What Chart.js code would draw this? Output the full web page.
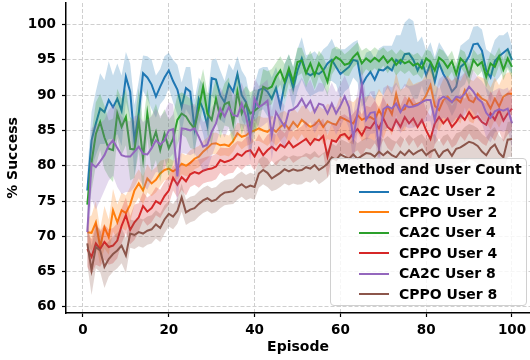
<!DOCTYPE html>
<html>
<head>
<meta charset="utf-8">
<script src="https://cdn.jsdelivr.net/npm/chart.js@4.4.1/dist/chart.umd.min.js"></script>
<style>
  body{ margin:0; background:#fff; }
  #wrap{ position:relative; width:530px; height:360px; }
  #legend{
    position:absolute; left:330px; top:158px; width:197px; height:148px;
    box-sizing:border-box; border:1px solid #d0d0d0; border-radius:4px;
    background:rgba(255,255,255,0.8);
    font:bold 14px "DejaVu Sans", sans-serif; color:#000;
  }
  #legend .ttl{ position:absolute; left:0; right:0; top:2px; text-align:center; line-height:17px; }
  #legend .row{ position:absolute; left:68px; line-height:17px; white-space:nowrap; }
  #legend .sw{ position:absolute; left:-40px; top:7.5px; width:30px; height:2px; }
</style>
</head>
<body>
<div id="wrap">
  <canvas id="chart"></canvas>
  <div id="legend"><div class="ttl">Method and User Count</div></div>
</div>
<script>
const episodes = Array.from({length:100}, (_, i) => i + 1);
const seriesLabels = ['CA2C User 2','CPPO User 2','CA2C User 4','CPPO User 4','CA2C User 8','CPPO User 8'];
const seriesColors = ['#1f77b4','#ff7f0e','#2ca02c','#d62728','#9467bd','#8c564b'];
const xTicks = [0,20,40,60,80,100];
const yTicks = [60,65,70,75,80,85,90,95,100];

const ca2cUser2 = [
  76.5,83.6,86.0,88.1,87.6,89.3,88.3,89.5,87.8,92.6,
  90.5,83.6,87.5,93.1,92.5,91.5,89.8,91.2,92.5,93.5,
  92.0,90.8,88.3,91.0,90.5,85.3,89.5,88.0,85.7,92.4,
  92.2,90.0,89.0,91.5,90.5,93.0,90.0,89.0,85.5,88.0,
  90.7,91.0,90.5,89.5,91.0,88.4,91.5,93.3,91.0,93.5,
  95.2,93.2,92.8,93.2,93.0,93.5,94.5,95.0,94.0,93.0,
  93.5,94.0,95.0,94.8,91.4,92.5,93.3,92.2,93.6,93.5,
  94.0,93.5,95.0,94.5,95.8,95.9,95.0,93.5,94.8,92.8,
  94.5,91.9,94.5,93.0,92.0,90.5,91.2,94.0,94.5,95.5,
  97.2,97.3,96.3,93.5,92.5,94.8,95.5,96.0,96.5,95.0];
const cppoUser2 = [
  70.6,70.5,72.0,68.5,71.3,69.9,73.7,72.0,73.7,73.3,
  74.5,76.5,77.5,76.5,78.2,77.5,78.0,78.9,79.4,79.6,
  79.2,79.6,80.3,80.0,80.4,81.0,81.3,82.0,82.5,83.1,
  83.2,82.9,83.0,82.8,83.5,84.6,84.1,84.3,84.8,85.0,
  85.3,85.0,84.8,85.3,84.8,85.5,86.0,85.2,86.2,85.5,
  86.5,86.0,85.5,85.8,86.5,85.5,86.3,86.0,85.8,86.9,
  86.6,86.3,86.0,87.2,86.5,86.8,86.9,86.5,87.9,86.8,
  88.5,87.3,90.2,87.8,88.0,89.5,88.5,88.8,89.0,90.0,
  91.4,88.5,87.9,89.3,89.8,89.0,89.5,89.0,90.7,89.3,
  89.0,90.2,89.5,89.2,88.1,89.5,88.4,89.8,90.2,90.2];
const ca2cUser4 = [
  74.5,80.5,84.5,86.2,84.0,82.4,82.2,87.4,85.5,86.9,
  82.4,82.3,86.5,81.0,87.4,83.1,84.8,82.2,84.5,82.5,
  83.8,86.5,87.4,87.0,86.0,85.3,88.1,91.2,87.4,86.5,
  89.5,86.9,88.7,89.0,86.0,90.5,87.4,88.8,87.4,87.8,
  88.3,91.2,90.9,91.2,92.6,93.5,91.9,93.8,91.9,94.7,
  94.9,93.1,94.5,92.8,94.5,93.5,91.9,94.7,95.4,95.0,
  94.3,94.5,95.4,96.0,94.5,95.2,94.7,95.3,94.8,95.5,
  94.6,95.2,94.3,95.0,94.5,94.8,94.2,94.5,93.8,95.2,
  94.7,93.5,95.3,94.8,93.9,94.8,93.0,95.2,94.6,92.8,
  95.0,94.2,94.7,92.6,94.5,94.0,95.5,93.6,95.2,94.0];
const cppoUser4 = [
  68.2,67.1,69.0,68.2,69.2,68.5,68.7,69.4,71.5,73.0,
  70.9,72.0,72.7,74.3,73.5,74.0,75.0,74.6,75.7,76.5,
  78.3,77.3,78.4,77.8,78.8,79.1,78.9,79.3,79.5,79.6,
  79.9,80.8,80.5,80.7,81.0,81.7,81.4,82.0,82.2,81.3,
  82.5,81.5,82.2,82.7,82.2,83.0,82.6,83.4,82.6,83.0,
  83.4,83.8,83.0,83.8,83.6,84.2,81.3,83.6,83.4,84.3,
  84.5,83.8,84.6,85.2,84.3,85.5,85.3,86.2,85.3,86.7,
  85.5,85.0,86.5,85.5,86.9,86.0,86.7,85.5,86.5,85.0,
  83.8,86.0,86.9,86.0,86.7,85.5,86.2,87.2,86.5,87.6,
  86.7,87.0,86.2,85.8,87.4,86.5,87.9,86.4,87.4,88.1];
const ca2cUser8 = [
  70.6,80.3,79.8,80.6,81.5,82.9,83.6,82.5,81.5,81.3,
  81.3,82.0,82.7,81.7,81.6,82.5,83.6,83.0,83.6,85.0,
  85.2,78.5,85.3,85.2,85.0,85.3,84.1,82.7,83.0,84.8,
  86.0,88.1,87.0,88.3,87.2,87.0,88.8,87.0,84.1,89.5,
  88.3,88.7,89.2,84.3,87.6,86.5,85.5,87.8,88.0,88.5,
  89.5,88.3,89.2,87.6,88.8,88.6,87.4,88.8,87.4,88.5,
  89.8,88.3,83.9,87.5,91.4,86.5,87.5,87.6,82.4,88.0,
  88.4,88.1,88.8,87.6,88.6,88.3,88.4,88.6,89.0,89.3,
  89.3,86.5,89.3,89.8,89.5,89.0,89.8,89.6,90.2,91.2,
  90.5,89.5,89.0,87.5,86.8,87.7,88.0,87.8,88.1,86.0];
const cppoUser8 = [
  69.0,65.2,68.5,68.0,65.7,66.8,67.5,68.0,68.7,67.3,
  70.4,70.2,70.6,70.4,70.8,71.0,71.7,71.2,72.4,73.2,
  72.8,73.6,75.5,73.4,73.8,74.0,74.6,75.1,75.4,75.0,
  75.2,75.8,76.2,76.3,76.4,77.0,77.4,76.9,77.2,77.0,
  78.9,79.4,79.0,78.2,78.6,79.0,79.5,79.2,79.5,79.3,
  79.4,79.8,79.6,80.1,79.4,79.8,80.3,81.2,80.8,81.6,
  81.3,81.0,81.6,81.0,81.4,81.8,81.7,81.3,82.0,81.5,
  82.0,81.5,81.2,82.0,81.5,82.2,81.6,82.0,82.3,81.5,
  82.0,82.3,81.2,82.0,82.3,81.4,82.4,82.6,83.0,83.4,
  83.2,82.8,82.0,81.5,82.5,83.0,81.8,81.2,83.7,83.8];

// half-width of the shaded band
const ca2cUser2Sd = [
  2.5,4.0,4.5,5.0,4.5,5.5,4.5,5.0,5.0,3.5,
  4.0,5.0,4.5,2.5,3.0,3.5,3.0,2.5,3.0,2.5,
  3.0,3.5,3.5,3.0,3.5,4.0,3.0,3.5,4.0,2.5,
  3.0,3.5,3.0,3.0,3.0,2.5,3.5,3.5,4.0,3.5,
  3.0,3.0,3.5,3.0,3.0,3.5,3.0,2.5,3.0,3.0,
  3.0,2.5,3.0,3.0,2.5,3.0,2.5,3.0,2.5,3.5,
  3.0,3.0,2.5,3.0,3.0,3.5,3.0,3.0,3.0,3.5,
  3.0,3.5,3.5,4.0,4.5,5.0,5.5,4.0,3.5,3.5,
  3.0,3.5,3.0,3.5,3.5,3.5,3.0,3.0,3.0,2.5,
  2.5,2.5,3.0,3.0,3.5,3.0,3.0,2.5,2.5,2.0];
const cppoUser2Sd = [
  2.0,2.5,3.0,2.5,3.0,2.5,3.0,2.5,2.5,2.5,
  2.5,2.0,2.0,2.0,2.0,1.8,1.8,1.8,1.5,1.5,
  1.5,1.5,1.5,1.5,1.8,1.5,1.5,1.5,1.5,1.5,
  1.5,1.5,1.5,1.5,1.5,1.5,1.8,1.5,1.8,1.5,
  1.8,1.8,2.0,1.8,2.0,2.0,1.8,2.0,2.0,2.0,
  2.0,2.5,2.0,2.5,2.0,2.5,2.5,2.5,2.5,3.0,
  2.5,3.0,3.0,2.5,3.0,3.0,3.0,3.0,3.0,3.0,
  3.0,3.0,3.0,3.0,3.0,3.0,3.0,3.0,3.0,3.0,
  3.0,3.0,3.0,3.0,3.0,3.0,3.0,3.0,2.5,3.0,
  3.0,2.5,3.0,3.0,3.0,3.0,3.0,3.0,3.0,3.0];
const ca2cUser4Sd = [
  2.0,4.0,4.5,4.0,4.5,4.0,4.5,3.5,4.0,4.0,
  4.5,4.0,4.5,5.0,3.5,4.0,4.0,4.5,3.5,4.0,
  3.5,3.5,3.0,3.0,3.5,3.0,3.0,2.5,3.0,3.5,
  3.0,3.0,3.0,3.5,3.0,3.0,3.0,2.5,3.0,3.0,
  2.5,2.5,2.5,2.5,2.0,2.0,2.5,2.0,2.0,2.0,
  1.8,2.0,1.8,2.0,1.8,2.0,2.0,1.8,1.5,1.5,
  1.5,1.8,1.5,1.5,1.8,1.5,1.5,1.5,1.5,1.3,
  1.5,1.3,1.5,1.5,1.5,1.3,1.5,1.5,1.5,1.3,
  1.5,1.5,1.3,1.5,1.5,1.5,1.5,1.3,1.5,1.5,
  1.5,1.5,1.3,1.5,1.5,1.5,1.3,1.5,1.5,1.5];
const cppoUser4Sd = [
  2.5,2.5,3.0,2.5,2.5,2.5,2.5,2.5,2.5,2.5,
  2.0,2.5,2.0,2.0,2.0,2.0,2.0,2.0,2.0,2.0,
  1.8,1.8,1.8,2.0,1.8,1.8,2.0,1.8,1.8,1.8,
  1.8,1.8,2.0,1.8,2.0,1.8,2.0,2.0,2.0,2.0,
  2.0,2.0,2.2,2.0,2.2,2.2,2.0,2.2,2.2,2.2,
  2.2,2.5,2.2,2.5,2.5,2.5,3.0,2.5,2.5,2.8,
  2.8,3.0,2.8,3.0,3.0,3.0,3.0,3.0,3.0,3.0,
  3.0,3.0,3.2,3.0,3.0,3.2,3.0,3.0,3.2,3.0,
  3.2,3.0,3.0,3.2,3.0,3.0,3.2,3.0,3.0,3.0,
  3.0,3.2,3.0,3.0,3.2,3.0,3.0,3.0,3.0,3.0];
const ca2cUser8Sd = [
  2.0,5.0,6.0,5.5,5.0,5.0,5.0,5.5,5.5,5.0,
  5.0,5.0,4.5,4.5,5.0,4.5,4.5,4.0,4.0,4.0,
  3.5,4.5,3.5,3.5,3.5,3.5,3.5,3.5,3.5,3.5,
  3.0,3.0,3.0,3.0,3.0,3.0,3.0,3.0,3.5,3.0,
  3.0,3.0,3.0,3.5,3.0,3.0,3.0,3.0,3.0,3.0,
  3.0,3.0,3.0,3.0,3.0,3.0,3.0,3.0,3.0,3.0,
  3.0,3.0,3.5,3.0,3.0,3.0,3.0,3.0,3.5,3.0,
  3.0,3.0,3.0,3.0,3.0,3.0,3.0,3.0,3.0,3.0,
  3.0,3.5,3.0,3.0,3.0,3.0,3.0,3.0,3.0,3.0,
  3.0,3.0,3.0,3.5,3.5,3.0,3.0,3.0,3.0,3.5];
const cppoUser8Sd = [
  3.0,3.5,3.0,3.0,3.0,2.5,2.5,2.5,2.5,2.5,
  2.0,2.0,2.0,2.0,2.0,2.0,2.0,2.0,2.0,1.8,
  1.8,1.8,2.0,1.8,1.8,1.8,1.8,1.8,1.8,1.8,
  1.8,1.8,1.8,1.8,1.8,1.8,1.8,1.8,1.8,1.8,
  2.0,2.0,2.0,1.8,2.0,2.0,2.0,2.0,2.0,2.0,
  2.0,2.0,2.0,2.0,2.0,2.0,2.0,2.0,2.0,2.2,
  2.2,2.2,2.2,2.2,2.2,2.2,2.2,2.2,2.2,2.2,
  2.2,2.2,2.2,2.2,2.2,2.2,2.2,2.2,2.2,2.2,
  2.2,2.2,2.2,2.2,2.2,2.2,2.2,2.2,2.5,2.5,
  2.5,2.5,2.5,2.5,2.5,2.5,2.5,2.5,2.5,2.5];

const seriesMeans = [ca2cUser2, cppoUser2, ca2cUser4, cppoUser4, ca2cUser8, cppoUser8];
const seriesSds = [ca2cUser2Sd, cppoUser2Sd, ca2cUser4Sd, cppoUser4Sd, ca2cUser8Sd, cppoUser8Sd];

function hexA(hex, a){
  const n = parseInt(hex.slice(1), 16);
  return `rgba(${n >> 16},${(n >> 8) & 255},${n & 255},${a})`;
}

const datasets = [];
let k = 0;
seriesMeans.forEach((mean, s) => {
  const sd = seriesSds[s];
  const col = seriesColors[s];
  const lowIdx = datasets.length;
  datasets.push({
    data: episodes.map((e, i) => ({x:e, y:mean[i] - sd[i]})),
    borderWidth:0, pointRadius:0, fill:false, order:100 - (k++)
  });
  datasets.push({
    data: episodes.map((e, i) => ({x:e, y:mean[i] + sd[i]})),
    borderWidth:0, pointRadius:0, fill:lowIdx,
    backgroundColor:hexA(col, 0.25), order:100 - (k++)
  });
  datasets.push({
    label: seriesLabels[s],
    data: episodes.map((e, i) => ({x:e, y:mean[i]})),
    borderColor:col, borderWidth:2, pointRadius:0, fill:false,
    tension:0, order:100 - (k++)
  });
});

const tickFont = { family:'"DejaVu Sans"', size:13.5, weight:'bold' };
const titleFont = { family:'"DejaVu Sans"', size:14, weight:'bold' };

new Chart(document.getElementById('chart'), {
  type:'line',
  data:{ datasets },
  options:{
    responsive:true,
    maintainAspectRatio:false,
    animation:false,
    layout:{ padding:{ top:3, right:0, left:0, bottom:0 } },
    plugins:{ legend:{ display:false }, tooltip:{ enabled:false } },
    scales:{
      x:{
        type:'linear', min:-3.96, max:104.2,
        afterBuildTicks:(sc) => { sc.ticks = xTicks.map(v => ({value:v})); },
        afterFit:(sc) => { sc.height = 47; sc.paddingLeft = 0; sc.paddingRight = 0; },
        ticks:{ color:'#000', font:tickFont, padding:5, maxRotation:0 },
        grid:{ color:'#cfcfcf', lineWidth:1, tickColor:'#000', tickLength:4, tickWidth:1.2 },
        border:{ display:true, color:'#000', width:1.5, dash:[4,2] },
        title:{ display:true, text:'Episode', color:'#000', font:titleFont, padding:{ top:0, bottom:4 } }
      },
      y:{
        type:'linear', min:59.15, max:103.05,
        afterBuildTicks:(sc) => { sc.ticks = yTicks.map(v => ({value:v})); },
        afterFit:(sc) => { sc.width = 66; sc.paddingTop = 0; sc.paddingBottom = 0; },
        ticks:{ color:'#000', font:tickFont, padding:6 },
        grid:{ color:'#cfcfcf', lineWidth:1, tickColor:'#000', tickLength:4, tickWidth:1.2 },
        border:{ display:true, color:'#000', width:1.5, dash:[4,2] },
        title:{ display:true, text:'% Success', color:'#000', font:titleFont, padding:{ top:5, bottom:0 } }
      }
    }
  }
});

// legend box, drawn over the plot like matplotlib's
const legend = document.getElementById('legend');
const rowTops = [24, 44.5, 65, 85.5, 106, 126.5];
seriesLabels.forEach((lab, i) => {
  const row = document.createElement('div');
  row.className = 'row';
  row.style.top = rowTops[i] + 'px';
  const sw = document.createElement('span');
  sw.className = 'sw';
  sw.style.background = seriesColors[i];
  row.appendChild(sw);
  row.appendChild(document.createTextNode(lab));
  legend.appendChild(row);
});
</script>
</body>
</html>
